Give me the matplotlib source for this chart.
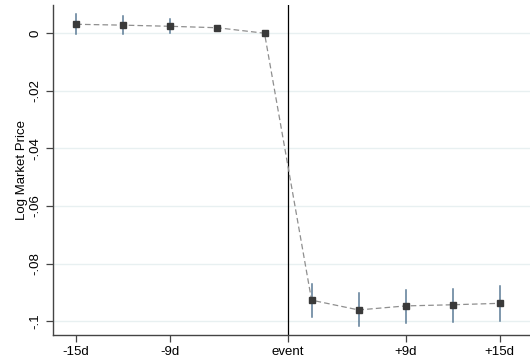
import matplotlib
matplotlib.use('Agg')
import matplotlib.pyplot as plt
import numpy as np

plt.rcParams['font.family'] = ['Liberation Sans', 'DejaVu Sans']

# event-study estimates (days relative to event)
days = [-15, -12, -9, -6, -3, 3, 6, 9, 12, 15]
coef = [0.0031, 0.0028, 0.0024, 0.0019, 0.0, -0.0927, -0.0961, -0.0947, -0.0943, -0.0938]
ci_low = [-0.0003, -0.0002, 0.0002, 0.0013, 0.0, -0.0984, -0.1018, -0.1005, -0.1002, -0.0999]
ci_high = [0.0065, 0.0060, 0.0051, 0.0025, 0.0, -0.0870, -0.0902, -0.0892, -0.0889, -0.0878]
has_ci = [True, True, True, True, False, True, True, True, True, True]

xtick_labels = ['-15d', '-9d', 'event', '+9d', '+15d']
xtick_days = [-15, -9, 0, 9, 15]
ytick_vals = [0, -0.02, -0.04, -0.06, -0.08, -0.1]
ytick_labels = ['0', '-.02', '-.04', '-.06', '-.08', '-.1']

pos = np.arange(len(days))
event_pos = 4.5


def day_to_pos(d):
    if d == 0:
        return event_pos
    return days.index(d)


fig = plt.figure(figsize=(5.3, 3.62), dpi=100)
ax = fig.add_axes([0.0994, 0.0746, 0.9006, 0.9116])

for yv in ytick_vals:
    ax.axhline(yv, color='#e8f0f1', lw=1.0, zorder=0)

for i in range(len(days)):
    if has_ci[i]:
        ax.plot([pos[i], pos[i]], [ci_low[i], ci_high[i]], color='#5b7b96', lw=1.1, zorder=2)

ax.plot(pos, coef, color='#8f8f8f', lw=0.9, linestyle=(0, (4.5, 2.5)), zorder=3)
ax.plot(pos, coef, linestyle='none', marker='s', markersize=4.6, color='#3a3a3a', zorder=4)

ax.axvline(event_pos, color='black', lw=0.9, zorder=1)

ax.set_xlim(-0.5, 9.64)
ax.set_ylim(-0.1048, 0.0098)

ax.set_xticks([day_to_pos(d) for d in xtick_days])
ax.set_xticklabels(xtick_labels, fontsize=9.5)
ax.set_yticks(ytick_vals)
ax.set_yticklabels(ytick_labels, fontsize=9.5, rotation=90, va='center')
ax.set_ylabel('Log Market Price', fontsize=9.5, labelpad=1)

ax.tick_params(axis='both', length=5, width=0.9, color='#444444', pad=3)
for s in ['top', 'right']:
    ax.spines[s].set_visible(False)
for s in ['left', 'bottom']:
    ax.spines[s].set_color('#444444')
    ax.spines[s].set_linewidth(1.0)

fig.savefig('out.png', dpi=100)
